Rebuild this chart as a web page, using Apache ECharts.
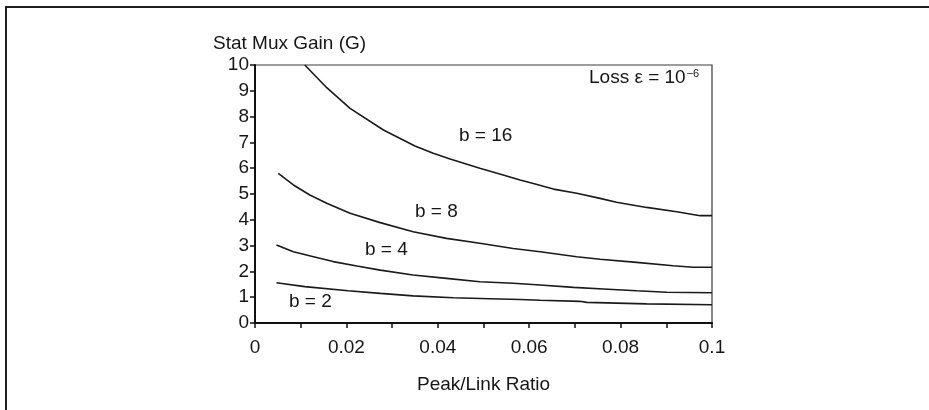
<!DOCTYPE html>
<html>
<head>
<meta charset="utf-8">
<script src="https://cdn.jsdelivr.net/npm/echarts@6/dist/echarts.min.js"></script>
<style>
  html, body { margin: 0; padding: 0; background: #fff; }
  #frame { position: absolute; left: 5px; top: 6px; right: -4px; bottom: -4px;
           border-left: 2px solid #1e1e1e; border-top: 2px solid #1e1e1e; }
  #chart { position: absolute; left: 0; top: 0; width: 929px; height: 410px; }
</style>
</head>
<body>
<div id="frame"></div>
<div id="chart"></div>
<script>
// Statistical multiplexing gain vs. peak/link ratio, loss 1e-6
const xB16 = [0.0109, 0.0157, 0.0208, 0.0281, 0.0350, 0.0390, 0.0427, 0.0492, 0.0543, 0.0580, 0.0609, 0.0653, 0.0704, 0.0755, 0.0791, 0.0857, 0.0923, 0.0974, 0.1];
const yB16 = [10, 9.12, 8.32, 7.48, 6.86, 6.58, 6.36, 6.00, 5.74, 5.54, 5.41, 5.19, 5.03, 4.83, 4.68, 4.48, 4.31, 4.16, 4.16];

const xB8 = [0.0051, 0.0084, 0.0120, 0.0157, 0.0208, 0.0274, 0.0346, 0.0419, 0.0492, 0.0565, 0.0624, 0.0704, 0.0755, 0.0835, 0.0915, 0.0959, 0.1];
const yB8 = [5.80, 5.35, 4.96, 4.64, 4.25, 3.89, 3.54, 3.28, 3.09, 2.89, 2.76, 2.57, 2.47, 2.35, 2.22, 2.16, 2.16];

const xB4 = [0.0047, 0.0084, 0.0128, 0.0171, 0.0223, 0.0274, 0.0346, 0.0419, 0.0492, 0.0565, 0.0624, 0.0697, 0.0762, 0.0835, 0.0901, 0.1];
const yB4 = [3.02, 2.76, 2.57, 2.38, 2.21, 2.05, 1.86, 1.73, 1.60, 1.54, 1.47, 1.38, 1.32, 1.25, 1.19, 1.17];

const xB2 = [0.0047, 0.0109, 0.0204, 0.0274, 0.0346, 0.0434, 0.0514, 0.0580, 0.0624, 0.0711, 0.0726, 0.0857, 0.1];
const yB2 = [1.56, 1.41, 1.25, 1.15, 1.05, 0.98, 0.94, 0.91, 0.88, 0.84, 0.80, 0.74, 0.71];

const seriesNames = ['b = 16', 'b = 8', 'b = 4', 'b = 2'];
const yTitle = 'Stat Mux Gain (G)';
const xTitle = 'Peak/Link Ratio';

const FONT = '"Liberation Sans", Arial, Helvetica, sans-serif';
const INK = '#1a1a1a';
const TXT = '#161616';

function pairs(xs, ys) { return xs.map((x, i) => [x, ys[i]]); }

function curve(name, xs, ys) {
  return {
    name: name,
    type: 'line',
    data: pairs(xs, ys),
    showSymbol: false,
    symbol: 'none',
    smooth: false,
    silent: true,
    lineStyle: { color: INK, width: 1.6 },
    z: 3
  };
}

const chart = echarts.init(document.getElementById('chart'), null, { renderer: 'canvas' });

chart.setOption({
  animation: false,
  backgroundColor: 'transparent',
  textStyle: { fontFamily: FONT },
  grid: {
    left: 255, top: 65, right: 217, bottom: 87,
    show: true, borderColor: '#3a3a3a', borderWidth: 1.2, backgroundColor: 'transparent'
  },
  xAxis: {
    type: 'value',
    min: 0, max: 0.1, interval: 0.01,
    name: xTitle,
    nameLocation: 'middle',
    nameGap: 52,
    nameTextStyle: { fontSize: 19, color: TXT, fontFamily: FONT },
    axisLine: { show: true, onZero: false, lineStyle: { color: '#111', width: 2 } },
    axisTick: { show: true, inside: false, length: 5, lineStyle: { color: '#111', width: 1.5 } },
    splitLine: { show: false },
    axisLabel: {
      fontSize: 19, color: TXT, margin: 15, fontFamily: FONT,
      formatter: function (v) {
        const h = Math.round(v * 100);
        if (h % 2 !== 0) return '';
        return String(+(h / 100).toFixed(2));
      }
    }
  },
  yAxis: {
    type: 'value',
    min: 0, max: 10, interval: 1,
    name: yTitle,
    nameLocation: 'end',
    nameGap: 12,
    nameTextStyle: { fontSize: 19, color: TXT, align: 'left', padding: [0, 0, 0, -42], fontFamily: FONT },
    axisLine: { show: true, onZero: false, lineStyle: { color: '#111', width: 2 } },
    axisTick: { show: true, inside: false, length: 5, lineStyle: { color: '#111', width: 1.5 } },
    splitLine: { show: false },
    axisLabel: { fontSize: 19, color: TXT, margin: 6, fontFamily: FONT }
  },
  series: [
    curve(seriesNames[0], xB16, yB16),
    curve(seriesNames[1], xB8, yB8),
    curve(seriesNames[2], xB4, yB4),
    curve(seriesNames[3], xB2, yB2)
  ],
  graphic: [
    { type: 'text', left: 459, top: 126, style: { text: seriesNames[0], font: '19px ' + FONT, fill: TXT } },
    { type: 'text', left: 415, top: 202, style: { text: seriesNames[1], font: '19px ' + FONT, fill: TXT } },
    { type: 'text', left: 365, top: 240, style: { text: seriesNames[2], font: '19px ' + FONT, fill: TXT } },
    { type: 'text', left: 289, top: 292, style: { text: seriesNames[3], font: '19px ' + FONT, fill: TXT } },
    {
      type: 'text', left: 589, top: 68,
      style: {
        text: '{a|Loss ε = 10}{s|−6}',
        rich: {
          a: { fontSize: 19, fontFamily: FONT, fill: TXT, verticalAlign: 'bottom' },
          s: { fontSize: 11, fontFamily: FONT, fill: TXT, verticalAlign: 'top', padding: [0, 0, 8, 1] }
        }
      }
    }
  ]
});
</script>
</body>
</html>
